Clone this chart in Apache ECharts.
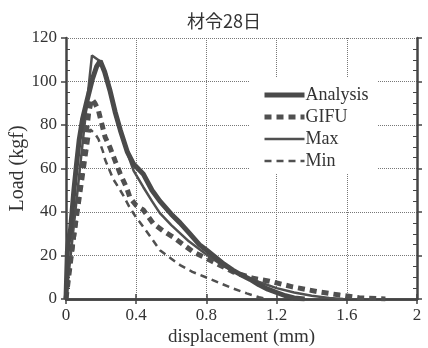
<!DOCTYPE html>
<html><head><meta charset="utf-8">
<script src="https://cdn.jsdelivr.net/npm/echarts@6/dist/echarts.min.js"></script>
<style>html,body{margin:0;padding:0;background:#fff}#c{width:428px;height:348px}</style>
</head><body><div id="c"></div>
<script>
const chartTitle = '材令28日';
const xName = 'displacement (mm)';
const yName = 'Load (kgf)';
const seriesNames = ['Analysis', 'GIFU', 'Max', 'Min'];

const analysisData = [[0,0],[0.008,22],[0.016,28],[0.026,32],[0.045,50],[0.06,62],[0.075,73],[0.095,83],[0.119,91],[0.15,101],[0.175,107],[0.195,109.5],[0.22,104.5],[0.25,96],[0.28,86],[0.31,77.5],[0.35,67.5],[0.385,62],[0.41,60],[0.44,57.5],[0.49,50],[0.535,45],[0.6,39],[0.65,35],[0.7,30.5],[0.76,25],[0.8,22.5],[0.9,16],[0.95,13.3],[1.0,11],[1.05,9],[1.1,6.5],[1.15,4.5],[1.2,3],[1.25,1.5],[1.3,0.5],[1.36,0]];
const gifuData = [[0,0],[0.13,86],[0.147,92],[0.165,90],[0.185,86.6],[0.223,74.4],[0.25,69.8],[0.28,63.5],[0.309,57.6],[0.346,51],[0.365,46.5],[0.4,43],[0.44,41],[0.497,34.7],[0.55,31.5],[0.61,28.5],[0.724,21.7],[0.838,17.1],[0.951,12.5],[1.065,9.5],[1.16,8.2],[1.29,5.6],[1.44,3.3],[1.56,1.8],[1.67,0.6],[1.82,0]];
const maxData = [[0,0],[0.148,112],[0.2,109],[0.23,103],[0.25,97],[0.28,87],[0.31,77],[0.35,67],[0.385,59],[0.44,51.5],[0.49,45],[0.535,39.5],[0.6,34],[0.7,26.5],[0.8,20.5],[0.9,15],[1.0,11],[1.1,7.8],[1.2,5],[1.3,3],[1.4,1.5],[1.5,0.5],[1.58,0]];
const minData = [[0,0],[0.138,78],[0.165,76],[0.185,73.5],[0.21,68],[0.223,64],[0.27,55],[0.309,50],[0.327,47.5],[0.36,42.5],[0.403,37],[0.42,35.4],[0.478,29],[0.535,22.4],[0.6,18.5],[0.65,15.6],[0.72,12.5],[0.8,9.9],[0.88,7.2],[0.95,4.9],[1.03,2.6],[1.1,0.8],[1.15,0]];

const serif = 'Liberation Serif';
const ink = '#444';
const txt = '#333';

const chart = echarts.init(document.getElementById('c'), null, {renderer: 'canvas'});
const frameLine = {lineStyle: {color: ink, width: 2.5}};
const majorTick = {show: true, inside: false, length: 5, lineStyle: {color: ink, width: 1.5}};
function minorAxis(pos) {
  return {
    type: 'value', position: pos, min: 0, max: 120, interval: 20,
    axisLine: {show: false}, axisLabel: {show: false}, splitLine: {show: false},
    axisTick: {show: false, inside: true},
    minorTick: {show: true, splitNumber: 4, length: 4, lineStyle: {color: ink, width: 1}}
  };
}
chart.setOption({
  animation: false,
  backgroundColor: '#fff',
  title: {
    text: chartTitle, left: 182, top: 7,
    textStyle: {fontFamily: 'Noto Sans CJK JP', fontSize: 18, fontWeight: 'normal', color: txt}
  },
  grid: {left: 66, top: 38, width: 351, height: 261, containLabel: false, outerBoundsMode: 'none'},
  legend: {
    orient: 'vertical', left: 250, top: 78,
    data: seriesNames,
    itemWidth: 40, itemHeight: 14, itemGap: 4,
    itemStyle: {opacity: 0},
    lineStyle: {width: 'inherit'},
    backgroundColor: '#fff', padding: [8, 9, 3, 12],
    textStyle: {fontFamily: serif, fontSize: 18, color: txt, padding: [0, 0, 0, -4]}
  },
  xAxis: [
    {
      type: 'value', position: 'bottom', min: 0, max: 2, interval: 0.4,
      axisLine: frameLine, axisTick: majorTick,
      axisLabel: {fontFamily: serif, fontSize: 17, color: txt, margin: 8},
      splitLine: {show: true, lineStyle: {type: 'dotted', color: '#777', width: 1}},
      name: xName, nameLocation: 'middle', nameGap: 29, nameMoveOverlap: false,
      nameTextStyle: {fontFamily: serif, fontSize: 19, color: txt}
    },
    {
      type: 'value', position: 'top', min: 0, max: 2, interval: 0.4,
      axisLine: frameLine, axisTick: majorTick,
      axisLabel: {show: false}, splitLine: {show: false}
    }
  ],
  yAxis: [
    {
      type: 'value', position: 'left', min: 0, max: 120, interval: 20,
      axisLine: frameLine, axisTick: majorTick,
      axisLabel: {fontFamily: serif, fontSize: 17, color: txt, margin: 9},
      splitLine: {show: true, lineStyle: {type: 'dotted', color: '#777', width: 1}},
      name: yName, nameLocation: 'middle', nameGap: 38, nameMoveOverlap: false,
      nameTextStyle: {fontFamily: serif, fontSize: 20, color: txt}
    },
    minorAxis('left'),
    {
      type: 'value', position: 'right', min: 0, max: 120, interval: 20,
      axisLine: frameLine, axisTick: majorTick,
      axisLabel: {show: false}, splitLine: {show: false}
    },
    minorAxis('right')
  ],
  series: [
    {name: seriesNames[0], type: 'line', data: analysisData, showSymbol: false, symbol: 'none', z: 5,
     lineStyle: {color: '#4a4a4a', width: 5, type: 'solid'}, itemStyle: {color: '#4a4a4a'}},
    {name: seriesNames[1], type: 'line', data: gifuData, showSymbol: false, symbol: 'none', z: 4,
     lineStyle: {color: '#505050', width: 5, type: [7, 5]}, itemStyle: {color: '#505050'}},
    {name: seriesNames[2], type: 'line', data: maxData, showSymbol: false, symbol: 'none', z: 3,
     lineStyle: {color: '#505050', width: 2.5, type: 'solid'}, itemStyle: {color: '#505050'}},
    {name: seriesNames[3], type: 'line', data: minData, showSymbol: false, symbol: 'none', z: 3,
     lineStyle: {color: '#505050', width: 2.5, type: [7, 5]}, itemStyle: {color: '#505050'}}
  ]
});
</script>
</body></html>
